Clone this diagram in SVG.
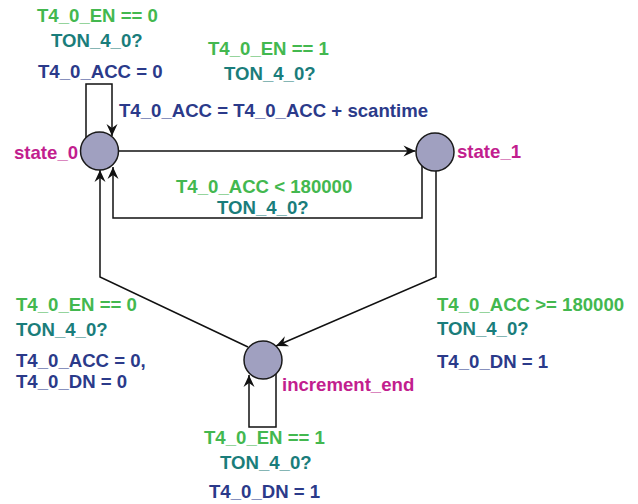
<svg xmlns="http://www.w3.org/2000/svg" width="638" height="504" viewBox="0 0 638 504">
  <defs>
    <style>
      text { font-family: "Liberation Sans", Arial, sans-serif; font-weight: bold; font-size: 18.6px; }
      .guard { fill: #43b84f; }
      .sync { fill: #1a7d7b; }
      .assign { fill: #2b3a8a; }
      .name { fill: #c21e8e; }
      .loc { fill: #a0a0c0; stroke: #1a1a1a; stroke-width: 1.5; }
      .edge { fill: none; stroke: #111; stroke-width: 1.5; marker-end: url(#arrow); }
    </style>
    <marker id="arrow" markerUnits="userSpaceOnUse" markerWidth="16" markerHeight="12" viewBox="-13 -6 14 12" refX="0" refY="0" orient="auto">
      <path d="M0,0 L-12,-5.5 L-8,0 L-12,5.5 Z" fill="#111"/>
    </marker>
  </defs>

  <rect width="638" height="504" fill="#fff"/>

  <!-- transitions -->
  <g id="edges">
    <path class="edge" d="M86,138 V84 H112 V136"/>
    <path class="edge" d="M118.5,151 H415.5"/>
    <path class="edge" d="M422,166 V218 H113 V167"/>
    <path class="edge" d="M436,171 V277 L276,346"/>
    <path class="edge" d="M248,347 L100,277 V170"/>
    <path class="edge" d="M276,374 V427 H249 V375"/>
  </g>

  <!-- transition labels -->
  <g id="labels">
    <text class="guard" x="37" y="22">T4_0_EN == 0</text>
    <text class="sync" x="51" y="47">TON_4_0?</text>
    <text class="assign" x="38" y="78">T4_0_ACC = 0</text>

    <text class="guard" x="208" y="55">T4_0_EN == 1</text>
    <text class="sync" x="224" y="80">TON_4_0?</text>
    <text class="assign" x="119" y="117">T4_0_ACC = T4_0_ACC + scantime</text>

    <text class="guard" x="176" y="193">T4_0_ACC &lt; 180000</text>
    <text class="sync" x="217" y="214">TON_4_0?</text>

    <text class="guard" x="16" y="311">T4_0_EN == 0</text>
    <text class="sync" x="16" y="336">TON_4_0?</text>
    <text class="assign" x="16" y="367">T4_0_ACC = 0,</text>
    <text class="assign" x="16" y="388">T4_0_DN = 0</text>

    <text class="guard" x="437" y="311">T4_0_ACC &gt;= 180000</text>
    <text class="sync" x="437" y="335">TON_4_0?</text>
    <text class="assign" x="437" y="368">T4_0_DN = 1</text>

    <text class="guard" x="204" y="444">T4_0_EN == 1</text>
    <text class="sync" x="220" y="469">TON_4_0?</text>
    <text class="assign" x="209" y="498">T4_0_DN = 1</text>
  </g>

  <!-- locations -->
  <g id="state_0">
    <circle class="loc" cx="99.5" cy="151" r="19"/>
    <text class="name" x="14" y="159">state_0</text>
  </g>
  <g id="state_1">
    <circle class="loc" cx="435" cy="152" r="19"/>
    <text class="name" x="457" y="158">state_1</text>
  </g>
  <g id="increment_end">
    <circle class="loc" cx="263" cy="360" r="19"/>
    <text class="name" x="282" y="391">increment_end</text>
  </g>
</svg>
